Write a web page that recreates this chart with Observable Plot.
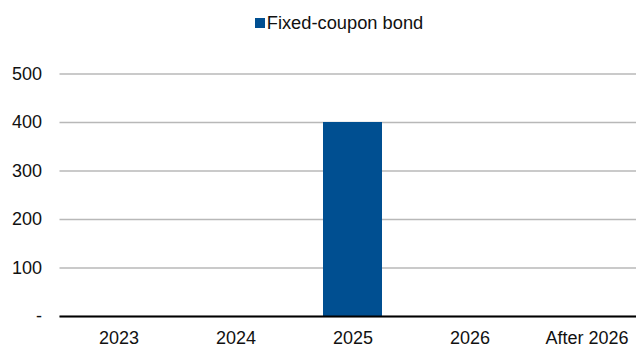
<!DOCTYPE html>
<html>
<head>
<meta charset="utf-8">
<script src="https://cdn.jsdelivr.net/npm/d3@7"></script>
<script src="https://cdn.jsdelivr.net/npm/@observablehq/plot@0.6"></script>
<style>
  html, body { margin: 0; padding: 0; background: #fff; overflow: hidden; width: 636px; height: 347px; }
  #legend { height: 45px; display: flex; justify-content: center; align-items: center; font: 18.3px "Liberation Sans", Arial, sans-serif; color: #111; padding-left: 42px; box-sizing: border-box; }
  #legend .sw { width: 10px; height: 10px; margin-right: 2px; display: inline-block; }
  #chart svg { display: block; }
</style>
</head>
<body>
<div id="legend"></div>
<div id="chart"></div>
<script>
const categories = ["2023", "2024", "2025", "2026", "After 2026"];
const fixedCoupon = [0, 0, 400, 0, 0];
const yTicks = [0, 100, 200, 300, 400, 500];
const seriesName = "Fixed-coupon bond";
const barColor = "#004f91";

const data = categories.map((c, i) => ({category: c, value: fixedCoupon[i]}));

const legend = document.getElementById("legend");
legend.innerHTML = `<span class="sw" style="background:${barColor}"></span><span>${seriesName}</span>`;

const chart = Plot.plot({
  width: 636,
  height: 302,
  marginLeft: 59.5,
  marginRight: 0,
  marginTop: 28.5,
  marginBottom: 31,
  style: {fontFamily: '"Liberation Sans", Arial, sans-serif', fontSize: "18px", color: "#111", background: "#fff"},
  x: {domain: categories, range: [59.5, 645], paddingInner: 0.5, paddingOuter: 0.25, label: null},
  y: {domain: [0, 500], label: null},
  marks: [
    Plot.gridY(yTicks, {stroke: "#b8b8b8", strokeOpacity: 1, strokeWidth: 1.5}),
    Plot.barY(data, {x: "category", y: "value", fill: barColor}),
    Plot.ruleY([0], {stroke: "#000", strokeWidth: 2}),
    Plot.axisY(yTicks, {tickSize: 0, tickPadding: 18, fontSize: 18, tickFormat: d => d === 0 ? "-" : d3.format("d")(d), label: null}),
    Plot.axisX({tickSize: 0, tickPadding: 14.5, fontSize: 18, label: null})
  ]
});
document.getElementById("chart").appendChild(chart);
</script>
</body>
</html>
